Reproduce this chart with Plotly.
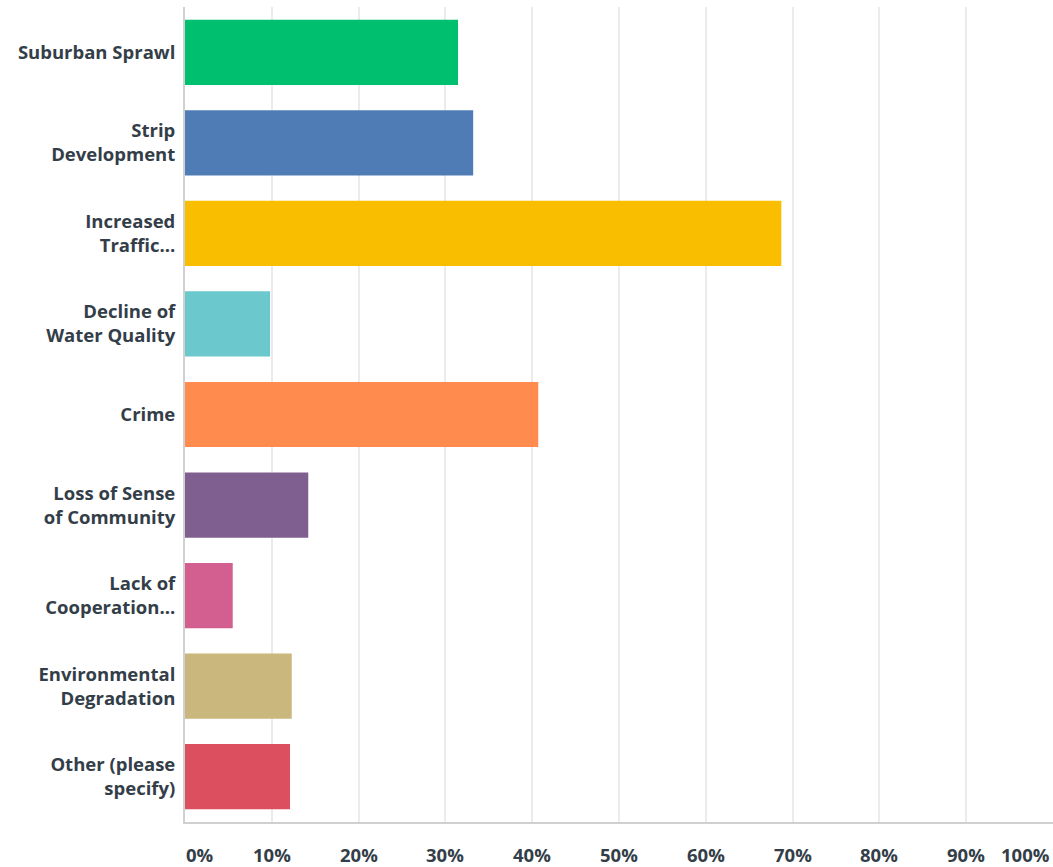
import plotly.graph_objects as go

categories = [
    "Suburban Sprawl",
    "Strip<br>Development",
    "Increased<br>Traffic...",
    "Decline of<br>Water Quality",
    "Crime",
    "Loss of Sense<br>of Community",
    "Lack of<br>Cooperation...",
    "Environmental<br>Degradation",
    "Other (please<br>specify)",
]
values = [31.45, 33.2, 68.7, 9.8, 40.7, 14.2, 5.5, 12.3, 12.1]
colors = ["#00BF6F", "#507CB6", "#F9BE00", "#6BC8CD", "#FF8B4F",
          "#7F5F90", "#D25F90", "#C9B77D", "#DB4F5E"]
tick_vals = [0, 10, 20, 30, 40, 50, 60, 70, 80, 90, 100]
tick_labels = ["0%", "10%", "20%", "30%", "40%", "50%", "60%", "70%", "80%", "90%", "100%"]

FONT = "Open Sans"
TEXT = "#333E48"
FS = 18.5

fig = go.Figure(go.Bar(
    y=categories, x=values, orientation="h",
    marker=dict(color=colors, line=dict(width=0)),
    hoverinfo="skip",
))

annotations = []
for v, t in zip(tick_vals, tick_labels):
    anchor = "left" if v == 0 else ("right" if v == 100 else "center")
    annotations.append(dict(
        x=v, y=0, xref="x", yref="paper", text=t, showarrow=False,
        xanchor=anchor, yanchor="top", yshift=-19, borderpad=0,
        xshift=-2 if v == 100 else 0,
        font=dict(family=FONT, size=FS, color=TEXT, weight="bold"),
    ))

fig.update_layout(
    width=1053, height=867,
    margin=dict(l=185, r=0, t=7, b=45),
    paper_bgcolor="white", plot_bgcolor="white",
    bargap=0.28,
    showlegend=False,
    annotations=annotations,
    xaxis=dict(
        range=[0, 100], tickvals=tick_vals, showticklabels=False,
        showgrid=True, gridcolor="#EBEBEB", gridwidth=1.5,
        zeroline=False, showline=True, linecolor="#D0D0D0", linewidth=2,
        fixedrange=True,
    ),
    yaxis=dict(
        autorange="reversed", showgrid=False, zeroline=False,
        showline=True, linecolor="#D0D0D0", linewidth=2,
        ticks="", ticklen=0, ticklabelstandoff=4,
        tickfont=dict(family=FONT, size=FS, color=TEXT, weight="bold"),
        fixedrange=True,
    ),
)

fig.write_html(
    "out.html",
    config={"displayModeBar": False},
    post_script="document.body.style.margin='0';document.body.style.overflow='hidden';",
)
